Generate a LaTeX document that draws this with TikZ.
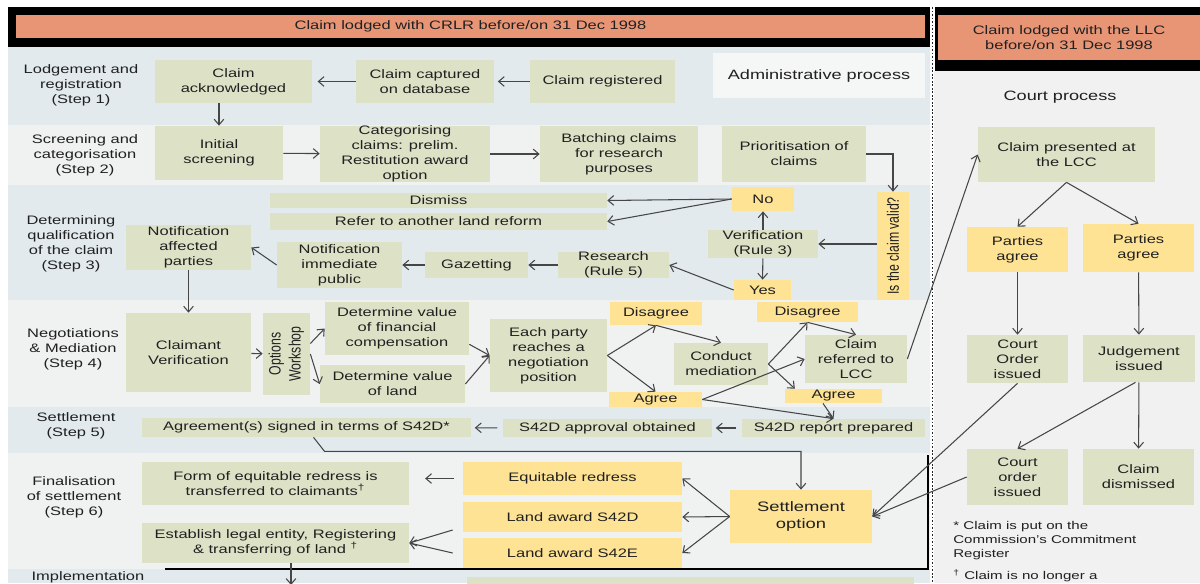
\documentclass[tikz,border=0pt]{standalone}
\usepackage{fontspec}
\setmainfont{Liberation Sans}[FakeStretch=1.34]
\newfontfamily\plainfont{Liberation Sans}
\usepackage{graphicx}
\usepackage{xcolor}
\usepackage{tikz}
\usetikzlibrary{arrows.meta,positioning,calc}
\definecolor{claimgreen}{RGB}{221,226,199}
\definecolor{claimyellow}{RGB}{254,227,148}
\definecolor{claimsalmon}{RGB}{232,149,118}
\definecolor{bandblue}{RGB}{226,234,237}
\definecolor{bandgrey}{RGB}{240,241,241}
\definecolor{courtgrey}{RGB}{241,241,241}
\definecolor{adminwhite}{RGB}{245,246,246}
\definecolor{arrowgrey}{RGB}{70,70,70}
\definecolor{txtgrey}{RGB}{32,32,32}

\begin{document}
\begin{tikzpicture}[x=0.02cm,y=-0.02cm,
  gbox/.style={rectangle,fill=claimgreen,align=center,inner xsep=2pt,inner ysep=0pt,
               text=txtgrey,font=\fontsize{7}{8.5}\selectfont},
  ybox/.style={gbox,fill=claimyellow},
  rowlbl/.style={align=center,inner sep=0pt,text=txtgrey,font=\fontsize{7}{8.5}\selectfont},
  hdr/.style={rectangle,fill=claimsalmon,align=center,inner sep=0pt,text=txtgrey,
              font=\fontsize{7}{8.5}\selectfont},
  fnote/.style={align=left,inner sep=0pt,text=txtgrey,font=\fontsize{6.4}{7.9}\selectfont},
  arr/.style={-{Straight Barb[length=3.2pt,width=5.5pt]},line width=0.6pt,draw=arrowgrey}
]
\useasboundingbox (0,0) rectangle (1200,583);

\fill[bandblue] (8,47) rectangle (930,125);
\fill[bandgrey] (8,125) rectangle (930,185);
\fill[bandblue] (8,185) rectangle (930,300);
\fill[bandgrey] (8,300) rectangle (930,407);
\fill[bandblue] (8,407) rectangle (930,453);
\fill[bandgrey] (8,453) rectangle (930,569);
\fill[bandblue] (8,569) rectangle (930,583);
\fill[courtgrey] (934,71) rectangle (1200,583);

\fill[black] (8,7) rectangle (930,47);
\fill[black] (935,7) rectangle (1200,71);
\node[hdr,minimum width=18.18cm,minimum height=0.46cm] (crlr) at (470.5,26.5) {Claim lodged with CRLR before/on 31 Dec 1998};
\node[hdr,minimum width=5.24cm,minimum height=0.9cm] (llc) at (1069,37.5) {Claim lodged with the LLC\\before/on 31 Dec 1998};
\draw[line width=1pt,dash pattern=on 1pt off 1pt,black!85] (932.5,7) -- (932.5,583);

\node[rowlbl] (l1) at (81,85) {Lodgement and\\registration\\(Step 1)};
\node[rowlbl] (l2) at (85,155) {Screening and\\categorisation\\(Step 2)};
\node[rowlbl] (l3) at (71,244) {Determining\\qualification\\of the claim\\(Step 3)};
\node[rowlbl] (l4) at (73,349) {Negotiations\\\& Mediation\\(Step 4)};
\node[rowlbl] (l5) at (76,426) {Settlement\\(Step 5)};
\node[rowlbl] (l6) at (74,497) {Finalisation\\of settlement\\(Step 6)};
\node[rowlbl] (l7) at (88,577) {Implementation};

\node[gbox,minimum width=3.14cm,minimum height=0.86cm] (ack) at (233.5,81.5) {Claim\\acknowledged};
\node[gbox,minimum width=2.76cm,minimum height=0.86cm] (capt) at (425,81.5) {Claim captured\\on database};
\node[gbox,minimum width=2.90cm,minimum height=0.86cm] (reg) at (602.5,81.5) {Claim registered};
\node[gbox,fill=adminwhite,minimum width=4.24cm,minimum height=0.9cm,font=\fontsize{7.7}{9}\selectfont] (admin) at (819,75.5) {Administrative process};

\node[gbox,minimum width=2.56cm,minimum height=1.08cm] (scr) at (219,153) {Initial\\screening};
\node[gbox,minimum width=3.40cm,minimum height=1.12cm] (cat) at (405,154) {Categorising\\claims: prelim.\\Restitution award\\option};
\node[gbox,minimum width=3.16cm,minimum height=1.12cm] (bat) at (619,154) {Batching claims\\for research\\purposes};
\node[gbox,minimum width=2.88cm,minimum height=1.12cm] (pri) at (794,154) {Prioritisation of\\claims};

\node[ybox,minimum width=0.64cm,minimum height=2.16cm] (valid) at (893,246) {\rotatebox{90}{\scalebox{1}[1.34]{\plainfont Is the claim valid?}}};
\node[gbox,minimum width=2.20cm,minimum height=0.56cm] (verif) at (763,244) {Verification\\(Rule 3)};
\node[ybox,minimum width=1.24cm,minimum height=0.48cm] (no) at (763,199) {No};
\node[ybox,minimum width=1.14cm,minimum height=0.40cm] (yes) at (762.5,290) {Yes};
\node[gbox,minimum width=6.74cm,minimum height=0.30cm] (dis) at (438.5,200.5) {Dismiss};
\node[gbox,minimum width=6.74cm,minimum height=0.34cm] (ref) at (438.5,221.5) {Refer to another land reform};
\node[gbox,minimum width=2.50cm,minimum height=0.92cm] (notimm) at (339.5,265) {Notification\\immediate\\public};
\node[gbox,minimum width=2.06cm,minimum height=0.52cm] (gaz) at (476.5,265) {Gazetting};
\node[gbox,minimum width=2.22cm,minimum height=0.52cm] (res) at (613.5,265) {Research\\(Rule 5)};
\node[gbox,minimum width=2.50cm,minimum height=0.90cm] (notaff) at (188.5,247.5) {Notification\\affected\\parties};

\node[gbox,minimum width=2.50cm,minimum height=1.58cm] (clv) at (188.5,352.5) {Claimant\\Verification};
\node[gbox,minimum width=0.90cm,minimum height=1.64cm] (ows) at (286.5,354) {\rotatebox{90}{\scalebox{1}[1.34]{\plainfont\begin{tabular}{@{}c@{}}Options\\Workshop\end{tabular}}}};
\node[gbox,minimum width=2.88cm,minimum height=1.06cm] (dfin) at (397,328.5) {Determine value\\of financial\\compensation};
\node[gbox,minimum width=2.90cm,minimum height=0.76cm] (dland) at (392.5,384) {Determine value\\of land};
\node[gbox,minimum width=2.34cm,minimum height=1.46cm] (each) at (548.5,355.5) {Each party\\reaches a\\negotiation\\position};
\node[ybox,minimum width=1.84cm,minimum height=0.46cm] (dis1) at (656,313.5) {Disagree};
\node[ybox,minimum width=1.86cm,minimum height=0.30cm] (agr1) at (655.5,399.5) {Agree};
\node[gbox,minimum width=1.88cm,minimum height=0.84cm] (med) at (721,364) {Conduct\\mediation};
\node[ybox,minimum width=2.02cm,minimum height=0.40cm] (dis2) at (807.5,312) {Disagree};
\node[ybox,minimum width=1.94cm,minimum height=0.28cm] (agr2) at (833.5,396) {Agree};
\node[gbox,minimum width=2.04cm,minimum height=0.96cm] (lcc) at (856,359) {Claim\\referred to\\LCC};

\node[gbox,minimum width=6.58cm,minimum height=0.38cm] (agrs) at (306.5,427.5) {Agreement(s) signed in terms of S42D*};
\node[gbox,minimum width=4.18cm,minimum height=0.36cm] (appr) at (607.5,428) {S42D approval obtained};
\node[gbox,minimum width=3.66cm,minimum height=0.36cm] (rep) at (833.5,428) {S42D report prepared};

\node[gbox,minimum width=8.94cm,minimum height=0.5cm] (implbox) at (690.5,589.5) {};
\draw[line width=1.4pt] (165,569) -- (928,569) -- (928,455);

\node[gbox,minimum width=5.34cm,minimum height=0.86cm] (fred) at (275.5,483.5) {Form of equitable redress is\\transferred to claimants\textsuperscript{†}};
\node[gbox,minimum width=5.34cm,minimum height=0.80cm] (legal) at (275.5,543) {Establish legal entity, Registering\\\& transferring of land \textsuperscript{†}};
\node[ybox,minimum width=4.38cm,minimum height=0.66cm] (eqr) at (572.5,478.5) {Equitable redress};
\node[ybox,minimum width=4.38cm,minimum height=0.60cm] (l42d) at (572.5,517) {Land award S42D};
\node[ybox,minimum width=4.38cm,minimum height=0.60cm] (l42e) at (572.5,553) {Land award S42E};
\node[ybox,minimum width=2.84cm,minimum height=1.06cm,font=\fontsize{7.8}{9.6}\selectfont] (sopt) at (801,516.5) {Settlement\\option};

\node[rowlbl,font=\fontsize{7.7}{9}\selectfont] (court) at (1060,97) {Court process};
\node[gbox,minimum width=3.54cm,minimum height=1.10cm] (pres) at (1066.5,154.5) {Claim presented at\\the LCC};
\node[ybox,minimum width=2.02cm,minimum height=0.90cm] (pa1) at (1017.5,249.5) {Parties\\agree};
\node[ybox,minimum width=2.22cm,minimum height=0.96cm] (pa2) at (1138.5,248) {Parties\\agree};
\node[gbox,minimum width=2.02cm,minimum height=0.96cm] (co1) at (1017.5,359) {Court\\Order\\issued};
\node[gbox,minimum width=2.24cm,minimum height=0.94cm] (jud) at (1139,358.5) {Judgement\\issued};
\node[gbox,minimum width=2.02cm,minimum height=1.12cm] (co2) at (1017.5,477) {Court\\order\\issued};
\node[gbox,minimum width=2.22cm,minimum height=1.12cm] (cdis) at (1138.5,477) {Claim\\dismissed};
\node[fnote,anchor=north west] (fn1) at (953,521) {* Claim is put on the\\Commission’s Commitment\\Register};
\node[fnote,anchor=north west] (fn2) at (953,569) {\textsuperscript{†} Claim is no longer a};

\draw[arr,shorten >=3pt] (capt) -- (ack);
\draw[arr,shorten >=2pt] (reg) -- (capt);
\draw[arr] (scr.north |- ack.south) -- (scr.north);
\draw[arr] (scr) -- (cat);
\draw[arr] (cat) -- (bat);
\draw[arr] (pri.east) -| (valid.north);

\draw[arr] (valid.west |- verif.east) -- (verif.east);
\draw[arr] (verif) -- (no);
\draw[arr] (verif) -- (yes);
\draw[arr] (no.west) -- (dis.east);
\draw[arr] (no.west) -- (ref.east);
\draw[arr] (yes.west) -- (res.east);
\draw[arr] (res) -- (gaz);
\draw[arr] (gaz) -- (notimm);
\draw[arr] (notimm.west) -- (notaff.east);
\draw[arr] (notaff) -- (clv);

\draw[arr] (clv) -- (ows);
\draw[arr] ([yshift=6pt]ows.east) -- (dfin.west);
\draw[arr] (ows.east) -- (dland.west);
\draw[arr] ([yshift=-9pt]dfin.east) -- (each.west);
\draw[arr] (dland.east) -- (each.west);
\draw[arr] (each.east) -- (dis1.south);
\draw[arr] (each.east) -- (agr1.north);
\draw[arr] (dis1.south) -- (med.north);
\draw[arr] (med.east) -- (dis2.south);
\draw[arr] (med.east) -- ([xshift=-22pt]agr2.north);
\draw[arr] (dis2.south) -- (lcc.north);
\draw[arr] (agr1.east) -- (lcc.west);
\draw[arr] (agr1.east) -- (rep.north);
\draw[arr] ([xshift=-6pt]agr2.south) -- (rep.north);
\draw[arr] (lcc.east) -- (pres.west);

\draw[arr,shorten <=3pt,shorten >=2pt] (rep) -- (appr);
\draw[arr,shorten <=3pt,shorten >=2pt] (appr) -- (agrs);
\draw[arr] ([xshift=4pt]agrs.south) -- ++(11,14) -| (sopt.north);

\draw[arr,shorten <=5pt,shorten >=9pt] (eqr.west) -- (fred.east |- eqr.west);
\draw[arr] ($(l42d.west)+(-10,13)$) -- (legal.east);
\draw[arr] ($(l42e.west)+(-10,0)$) -- (legal.east);
\draw[arr] (sopt.west) -- (eqr.east);
\draw[arr] (sopt.west) -- (l42d.east);
\draw[arr] (sopt.west) -- (l42e.east);
\coordinate (impl) at (291,585);
\draw[arr] (legal.south -| impl) -- (impl);

\draw[arr] (pres.south) -- (pa1.north);
\draw[arr] (pres.south) -- (pa2.north);
\draw[arr] (pa1) -- (co1);
\draw[arr] (pa2) -- (jud);
\draw[arr] (jud) -- (cdis);
\draw[arr] ([xshift=-2pt]jud.south) -- (co2.north);
\draw[arr] (co1.south) -- (sopt.east);
\draw[arr] (co2.west) -- (sopt.east);
\end{tikzpicture}
\end{document}
